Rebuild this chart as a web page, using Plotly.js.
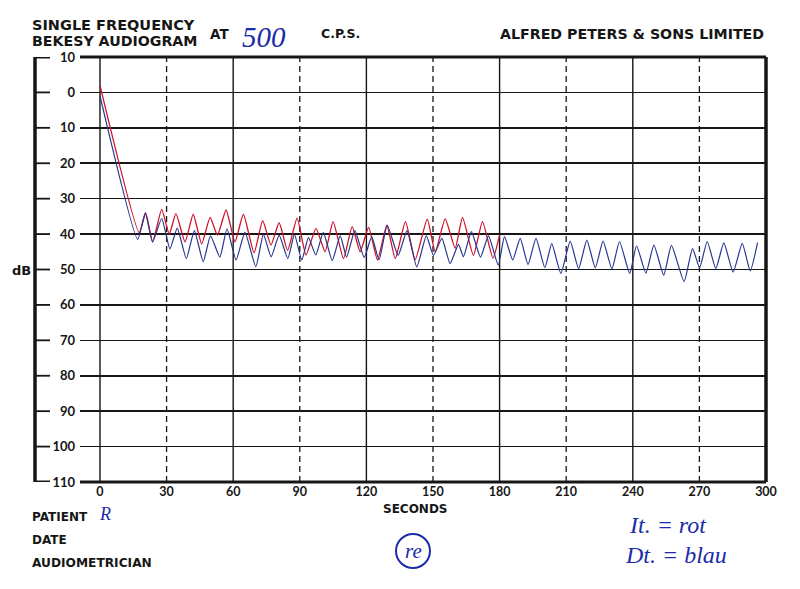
<!DOCTYPE html>
<html><head><meta charset="utf-8">
<script src="https://cdn.plot.ly/plotly-3.0.1.min.js"></script>
<style>html,body{margin:0;padding:0;background:#fff}</style>
</head><body><div id="chart" style="width:800px;height:589px"></div>
<script>
// ---- data ----
const redTime = [0,17.7,20.6,23.7,27.8,31.2,34.2,38.3,42.0,45.8,49.6,52.9,56.8,60.8,64.6,69.4,73.3,77.0,80.7,84.5,88.8,92.8,97.3,101.4,105.0,109.7,113.6,117.2,121.0,125.0,129.2,133.0,137.6,142.0,147.4,151.0,155.5,160.0,163.3,168.2,172.3,177.0,180.0];
const redDb   = [-2,39.6,34.0,42.2,33.0,40.0,34.2,42.2,34.4,42.8,35.3,40.3,33.2,42.2,34.4,45.3,36.2,43.1,36.8,44.6,35.5,45.9,38.4,45.0,36.5,46.9,37.9,45.0,38.1,47.3,37.5,46.9,36.5,47.2,35.8,45.0,35.7,44.0,35.3,46.0,36.5,46.8,40.3];
const blueTime = [0,17.0,20.4,23.7,27.8,31.5,34.8,38.9,42.5,46.5,49.8,54.0,57.2,61.3,65.3,70.2,73.6,77.1,80.7,84.6,87.6,90.9,93.9,97.2,100.6,104.6,108.2,111.1,114.8,119.0,122.4,125.7,129.4,134.3,138.3,142.7,147.0,150.2,154.0,157.7,161.5,163.7,167.3,171.4,175.0,179.4,182.2,185.9,189.3,192.8,196.4,200.4,203.5,207.6,211.8,215.6,219.3,223.1,226.6,230.6,234.0,238.6,241.7,245.9,249.5,253.9,257.4,263.1,266.9,270.1,273.5,277.4,281.0,285.2,289.3,292.9,296.2];
const blueDb   = [1,41.5,34.0,42.2,35.6,44.2,38.3,46.9,39.0,47.8,40.5,46.5,38.5,47.3,39.5,49.2,40.1,46.4,40.3,46.9,40.1,47.3,41.0,45.9,39.5,47.5,40.5,46.5,39.0,46.6,40.7,47.3,37.5,46.0,39.0,49.3,40.5,46.0,41.2,48.3,42.9,46.4,39.3,46.5,40.5,48.8,40.7,47.3,41.2,48.6,41.2,49.5,42.7,51.1,42.0,49.8,41.7,49.5,42.0,49.8,42.1,51.1,43.3,51.0,43.1,51.6,43.2,53.4,44.1,49.5,42.1,49.7,42.5,50.7,42.6,50.4,42.4];
const xTicks = [0,30,60,90,120,150,180,210,240,270,300];
const solidX = [0,60,120,180,240];
const dashedX = [30,90,150,210,270];
const yTicks = [-10,0,10,20,30,40,50,60,70,80,90,100,110];
const yTickText = ['10','0','10','20','30','40','50','60','70','80','90','100','110'];

// ---- layout helpers ----
const L=80, R=766, T=57, B=482, W=R-L, H=B-T;
const px = x => (x-L)/W;
const py = y => (B-y)/H;
const INK = '#161616';
const PRINT = '"DejaVu Sans", sans-serif';
const NUM = 'Lato, "Open Sans", sans-serif';
const HAND = '"Liberation Serif", serif';
const PEN = '#1c2ca8';

const shapes = [];
solidX.forEach(v => shapes.push({type:'line', xref:'x', yref:'paper', x0:v, x1:v, y0:0, y1:1, line:{color:INK, width:1.4}, layer:'below'}));
dashedX.forEach(v => shapes.push({type:'line', xref:'x', yref:'paper', x0:v, x1:v, y0:0, y1:1, line:{color:INK, width:1.3, dash:'6px,4px'}, layer:'below'}));
// left bracket and stubs
shapes.push({type:'line', xref:'paper', yref:'paper', x0:px(35), x1:px(35), y0:0, y1:1, line:{color:INK, width:3.5}});
yTicks.forEach(v => shapes.push({type:'line', xref:'paper', yref:'y', x0:px(34), x1:px(50), y0:v, y1:v, line:{color:INK, width:(v===-10||v===110)?3:1.8}}));
// frame
shapes.push({type:'line', xref:'paper', yref:'paper', x0:0, x1:1, y0:1, y1:1, line:{color:INK, width:3}});
shapes.push({type:'line', xref:'paper', yref:'paper', x0:0, x1:1, y0:0, y1:0, line:{color:INK, width:3}});
shapes.push({type:'line', xref:'paper', yref:'paper', x0:1, x1:1, y0:0, y1:1, line:{color:INK, width:3.5}});
// circle stamp
shapes.push({type:'circle', xref:'paper', yref:'paper', x0:px(396), x1:px(430), y0:py(568), y1:py(534), line:{color:PEN, width:2}});

function txt(text, x, y, size, opts={}) {
  return Object.assign({text, xref:'paper', yref:'paper', x:px(x), y:py(y), xanchor:'left', yanchor:'middle', showarrow:false,
    font:{family:PRINT, size, color:INK, weight:700}}, opts);
}
const hand = (size) => ({family:HAND, size, color:PEN, style:'italic'});
const annotations = [
  txt('SINGLE FREQUENCY', 30, 25, 14.5),
  txt('BEKESY AUDIOGRAM', 30, 41, 14.2),
  txt('AT', 208, 34, 13.5),
  txt('C.P.S.', 319, 34, 12.5),
  txt('ALFRED PETERS &amp; SONS LIMITED', 498, 34, 14.2),
  txt('dB', 10, 270, 13),
  txt('SECONDS', 415, 509, 12, {xanchor:'center'}),
  txt('PATIENT', 30, 517, 12),
  txt('DATE', 30, 540, 12),
  txt('AUDIOMETRICIAN', 30, 563, 12.2),
  txt('500', 240, 37, 29, {font:hand(29)}),
  txt('R', 97, 514, 18, {font:hand(18)}),
  txt('re', 413, 551, 21, {xanchor:'center', font:hand(21)}),
  txt('It. = rot', 627, 525, 24, {font:hand(24)}),
  txt('Dt. = blau', 623, 555, 24, {font:hand(24)})
];

const data = [
  {x: redTime, y: redDb, type:'scatter', mode:'lines', name:'It. = rot', line:{color:'#cf1329', width:1.3, shape:'spline', smoothing:0.5}},
  {x: blueTime, y: blueDb, type:'scatter', mode:'lines', name:'Dt. = blau', line:{color:'#26358f', width:1.2, shape:'spline', smoothing:0.5}}
];

const layout = {
  width:800, height:589,
  margin:{l:L, r:800-R, t:T, b:589-B},
  paper_bgcolor:'#ffffff', plot_bgcolor:'#ffffff',
  showlegend:false, hovermode:false,
  xaxis:{range:[-9,300], tickvals:xTicks, ticktext:xTicks.map(String), showgrid:false, zeroline:false, showline:false, ticks:'',
    tickfont:{family:NUM, size:12.5, color:INK, weight:700}},
  yaxis:{range:[110,-10], tickvals:yTicks, ticktext:yTickText, showgrid:true, gridcolor:INK, gridwidth:1.6, zeroline:false, showline:false, ticks:'',
    tickfont:{family:NUM, size:13, color:INK, weight:700}, ticklabelstandoff:4},
  shapes, annotations
};
Plotly.newPlot('chart', data, layout, {displayModeBar:false, staticPlot:true});
</script></body></html>
